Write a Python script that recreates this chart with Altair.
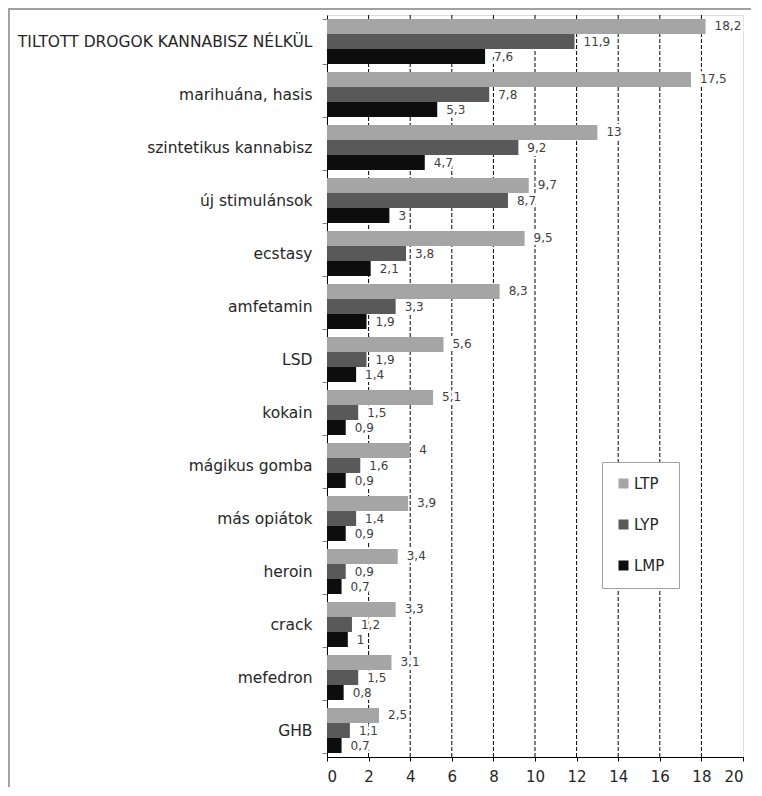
import altair as alt
import pandas as pd

categories = [
    "TILTOTT DROGOK KANNABISZ NÉLKÜL", "marihuána, hasis", "szintetikus kannabisz",
    "új stimulánsok", "ecstasy", "amfetamin", "LSD", "kokain", "mágikus gomba",
    "más opiátok", "heroin", "crack", "mefedron", "GHB",
]
series = ["LTP", "LYP", "LMP"]
ltp = [18.2, 17.5, 13, 9.7, 9.5, 8.3, 5.6, 5.1, 4, 3.9, 3.4, 3.3, 3.1, 2.5]
lyp = [11.9, 7.8, 9.2, 8.7, 3.8, 3.3, 1.9, 1.5, 1.6, 1.4, 0.9, 1.2, 1.5, 1.1]
lmp = [7.6, 5.3, 4.7, 3, 2.1, 1.9, 1.4, 0.9, 0.9, 0.9, 0.7, 1, 0.8, 0.7]
colors = ["#a5a5a5", "#595959", "#0d0d0d"]
x_ticks = [0, 2, 4, 6, 8, 10, 12, 14, 16, 18, 20]
grid_vals = [2, 4, 6, 8, 10, 12, 14, 16, 18]

def fmt(v):
    s = ("%g" % v)
    return s.replace(".", ",")

rows = []
for name, vals in zip(series, [ltp, lyp, lmp]):
    for c, v in zip(categories, vals):
        rows.append({"cat": c, "series": name, "value": v, "label": fmt(v)})
df = pd.DataFrame(rows)
grid_df = pd.DataFrame({"g": grid_vals})

FONT = "DejaVu Sans"

y_enc = alt.Y("cat:N", sort=categories,
              scale=alt.Scale(paddingInner=0.15, paddingOuter=0.075),
              axis=alt.Axis(title=None, tickBand="extent", tickSize=5, labelPadding=10,
                            labelFontSize=15.5, labelColor="#262626", labelFont=FONT,
                            labelLimit=400, domainColor="#000000", tickColor="#808080"))
yoff = alt.YOffset("series:N", sort=series, scale=alt.Scale(paddingInner=0, paddingOuter=0))
x_scale = alt.Scale(domain=[0, 20], nice=False)

grid = alt.Chart(grid_df).mark_rule(color="#000000", strokeDash=[4, 2], strokeWidth=1).encode(
    x=alt.X("g:Q", scale=x_scale)
)

bars = alt.Chart(df).mark_bar().encode(
    x=alt.X("value:Q", scale=x_scale,
            axis=alt.Axis(values=x_ticks, title=None, grid=False, tickSize=4,
                          labelFontSize=15, labelColor="#262626", labelFont=FONT,
                          labelPadding=8, domainColor="#000000", tickColor="#000000")),
    y=y_enc,
    yOffset=yoff,
    color=alt.Color("series:N", sort=series,
                    scale=alt.Scale(domain=series, range=colors),
                    legend=alt.Legend(title=None, orient="none", legendX=275, legendY=447,
                                      fillColor="#ffffff", strokeColor="#a0a0a0",
                                      padding=14, symbolType="square", symbolSize=100,
                                      symbolStrokeWidth=0, labelFontSize=15,
                                      labelFont=FONT, labelColor="#262626",
                                      rowPadding=25, labelOffset=3)),
)

halo = alt.Chart(df).mark_text(align="left", baseline="middle", dx=9, fontSize=12,
                               font=FONT, fill="#ffffff", stroke="#ffffff",
                               strokeWidth=6).encode(
    x=alt.X("value:Q", scale=x_scale), y=y_enc, yOffset=yoff, text="label:N"
)
labels = alt.Chart(df).mark_text(align="left", baseline="middle", dx=9, fontSize=12,
                                 font=FONT, color="#404040").encode(
    x=alt.X("value:Q", scale=x_scale), y=y_enc, yOffset=yoff, text="label:N"
)

frame_top = alt.Chart(grid_df).mark_rule(color="#a0a0a0", strokeWidth=1.5).encode(
    x=alt.value(-318.5), x2=alt.value(440), y=alt.value(-6)
)
frame_left = alt.Chart(grid_df).mark_rule(color="#a0a0a0", strokeWidth=1.5).encode(
    x=alt.value(-318.5), y=alt.value(-6), y2=alt.value(790)
)

chart = alt.layer(grid, halo, bars, labels, frame_top, frame_left).properties(
    width=416, height=742,
    autosize=alt.AutoSizeParams(type="none"),
    padding={"left": 319, "top": 7, "right": 8, "bottom": 30},
).configure_view(stroke="#909090", strokeWidth=1.2).configure(background="#ffffff")

chart.save("out.html", embed_options={"renderer": "svg", "actions": False})
